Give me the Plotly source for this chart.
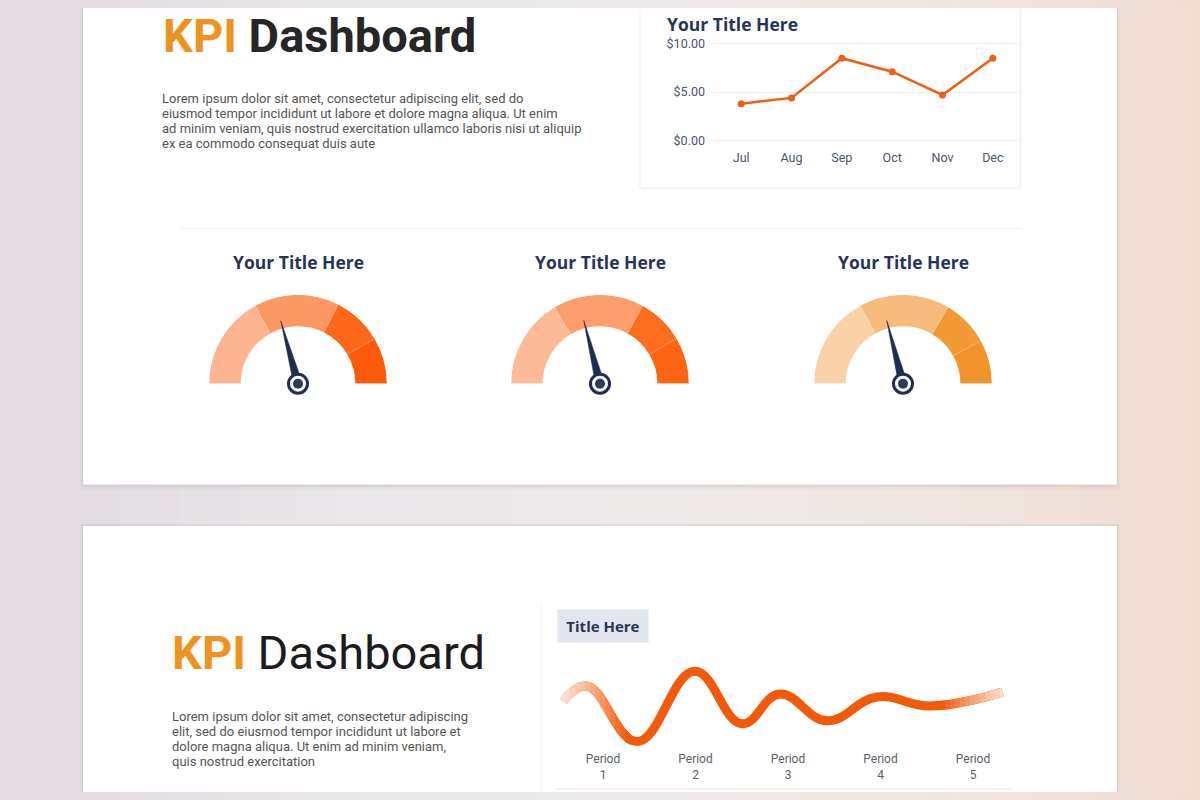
import plotly.graph_objects as go

# The page body keeps its default 8px margin, so the figure is 16px smaller than
# the window and every position below is given in window pixels.
WIN_W, WIN_H, PAGE_M = 1200, 800, 8
FW, FH = WIN_W - 2 * PAGE_M, WIN_H - 2 * PAGE_M


def fx(p):
    return (p - PAGE_M) / FW


def fy(p):
    return 1 - (p - PAGE_M) / FH


# ---------------- data ----------------
months = ["Jul", "Aug", "Sep", "Oct", "Nov", "Dec"]
month_values = [3.8, 4.4, 8.5, 7.1, 4.7, 8.5]
money_ticks = [0, 5, 10]
money_labels = ["$0.00", "$5.00", "$10.00"]

gauge_title = "Your Title Here"
gauge_values = [41.5, 42.0, 42.0]          # percent of the dial
gauge_bounds = [[0, 34, 65, 83, 100],
                [0, 33, 66, 83, 100],
                [0, 34, 67, 84, 100]]

period_labels = ["Period<br>1", "Period<br>2", "Period<br>3", "Period<br>4", "Period<br>5"]
period_pos = [1, 2, 3, 4, 5]
wave_x = [0.57, 0.83, 1.37, 1.99, 2.50, 2.91, 3.42, 3.96, 4.54, 5.32]
wave_y = [4.8, 6.3, 0.7, 7.8, 2.5, 5.5, 2.8, 5.2, 4.3, 5.7]

lorem_top = [
    "Lorem ipsum dolor sit amet, consectetur adipiscing elit, sed do",
    "eiusmod tempor incididunt ut labore et dolore magna aliqua. Ut enim",
    "ad minim veniam, quis nostrud exercitation ullamco laboris nisi ut aliquip",
    "ex ea commodo consequat duis aute",
]
lorem_bottom = [
    "Lorem ipsum dolor sit amet, consectetur adipiscing",
    "elit, sed do eiusmod tempor incididunt ut labore et",
    "dolore magna aliqua. Ut enim ad minim veniam,",
    "quis nostrud exercitation",
]

# ---------------- styles ----------------
ORANGE_T = "#f0921e"
NAVY = "#27345a"
NEEDLE = "#1f2d52"
gauge_colors = [
    ["#fcb590", "#fd9862", "#fd681a", "#fd5b0a"],
    ["#fdba96", "#fd9d6c", "#fe6c20", "#fe6412"],
    ["#fbd2a8", "#f7bc7c", "#f29b36", "#f1932a"],
]
gauge_cx = [298, 600, 903]
FONT = "Roboto"
TFONT = "Open Sans"

fig = go.Figure()
shapes = []

# background gradient
stops = [(0.0, (226, 219, 226)), (0.3, (234, 231, 234)), (0.55, (238, 234, 234)),
         (0.8, (240, 229, 224)), (1.0, (242, 221, 211))]


def mix(c0, c1, u):
    return tuple(round(a + (b - a) * u) for a, b in zip(c0, c1))


def grad(t):
    for (t0, c0), (t1, c1) in zip(stops[:-1], stops[1:]):
        if t0 <= t <= t1:
            return "rgb(%d,%d,%d)" % mix(c0, c1, (t - t0) / (t1 - t0))
    return "rgb(%d,%d,%d)" % stops[-1][1]


N = 40
for i in range(N):
    t0, t1 = i / N, min(1.0, (i + 1.05) / N)
    shapes.append(dict(type="rect", xref="paper", yref="paper", layer="below",
                       x0=fx(t0 * WIN_W), x1=fx(t1 * WIN_W), y0=fy(WIN_H), y1=fy(0),
                       fillcolor=grad((i + 0.5) / N), line_width=0))

# card shadows + cards
for off, a in [(6, 0.025), (4, 0.035), (2, 0.05)]:
    shapes.append(dict(type="rect", xref="paper", yref="paper", layer="below",
                       x0=fx(83 - off / 2), x1=fx(1117 + off / 2), y0=fy(485 + off), y1=fy(0),
                       fillcolor="rgba(90,70,70,%s)" % a, line_width=0))
    shapes.append(dict(type="rect", xref="paper", yref="paper", layer="below",
                       x0=fx(83 - off / 2), x1=fx(1117 + off / 2), y0=fy(WIN_H), y1=fy(527 - off / 2),
                       fillcolor="rgba(90,70,70,%s)" % a, line_width=0))
shapes.append(dict(type="rect", xref="paper", yref="paper", layer="below",
                   x0=fx(83), x1=fx(1117), y0=fy(485), y1=fy(0),
                   fillcolor="white", line_width=0))
shapes.append(dict(type="rect", xref="paper", yref="paper", layer="below",
                   x0=fx(83), x1=fx(1117), y0=fy(WIN_H), y1=fy(527),
                   fillcolor="white", line_width=0))
# inner card of the line chart
shapes.append(dict(type="rect", xref="paper", yref="paper", layer="below",
                   x0=fx(641), x1=fx(1022), y0=fy(187), y1=fy(0),
                   fillcolor="rgba(0,0,0,0.02)", line_width=0))
shapes.append(dict(type="rect", xref="paper", yref="paper", layer="below",
                   x0=fx(640), x1=fx(1020), y0=fy(185), y1=fy(-2),
                   fillcolor="white", line=dict(color="#ececec", width=1)))
# divider
shapes.append(dict(type="line", xref="paper", yref="paper", layer="below",
                   x0=fx(180), x1=fx(1022), y0=fy(226), y1=fy(226),
                   line=dict(color="#f0f0f0", width=1)))
# wave panel borders
shapes.append(dict(type="line", xref="paper", yref="paper", layer="below",
                   x0=fx(541), x1=fx(541), y0=fy(605), y1=fy(WIN_H),
                   line=dict(color="#f1f1f1", width=1)))
shapes.append(dict(type="line", xref="paper", yref="paper", layer="below",
                   x0=fx(555), x1=fx(1012), y0=fy(793), y1=fy(793),
                   line=dict(color="#eeeeee", width=1.5)))

layout = {}

# ---------------- line chart ----------------
fig.add_trace(go.Scatter(x=months, y=month_values, mode="lines+markers",
                         line=dict(color="#ef5e16", width=2.5),
                         marker=dict(color="#ef5e16", size=7),
                         hoverinfo="skip", xaxis="x", yaxis="y"))
layout["xaxis"] = dict(domain=[fx(711), fx(1019)], range=[-0.6, 5.52], anchor="y",
                       showgrid=False, zeroline=False, showline=False, ticks="",
                       ticklabelstandoff=5,
                       tickfont=dict(family=FONT, size=12.5, color="#4b5472"))
layout["yaxis"] = dict(domain=[fy(137 + 2.94), fy(39 - 2.94)], range=[-0.3, 10.3], anchor="x",
                       tickvals=money_ticks, ticktext=money_labels,
                       showgrid=True, gridcolor="#ececec", gridwidth=1,
                       zeroline=False, showline=False, ticks="",
                       ticklabelstandoff=5,
                       tickfont=dict(family=FONT, size=12.5, color="#4b5472"))

# ---------------- gauges ----------------
for g in range(3):
    pid = "polar" if g == 0 else "polar%d" % (g + 1)
    b = gauge_bounds[g]
    thetas = [(b[i] + b[i + 1]) / 2 * 1.8 for i in range(4)]
    widths = [(b[i + 1] - b[i]) * 1.8 for i in range(4)]
    fig.add_trace(go.Barpolar(r=[32] * 4, base=58, theta=thetas, width=widths,
                              marker=dict(color=gauge_colors[g],
                                          line=dict(color="rgba(255,255,255,0.2)", width=0.6)),
                              hoverinfo="skip", subplot=pid))
    tv = gauge_values[g] * 1.8
    fig.add_trace(go.Scatterpolar(r=[4.5, 66, 4.5], theta=[tv - 90, tv, tv + 90],
                                  mode="lines", fill="toself", fillcolor=NEEDLE,
                                  line=dict(color=NEEDLE, width=0.5), cliponaxis=False,
                                  hoverinfo="skip", subplot=pid))
    fig.add_trace(go.Scatterpolar(r=[0], theta=[0], mode="markers", cliponaxis=False,
                                  marker=dict(size=19, color="white",
                                              line=dict(color=NEEDLE, width=3)),
                                  hoverinfo="skip", subplot=pid))
    fig.add_trace(go.Scatterpolar(r=[0], theta=[0], mode="markers", cliponaxis=False,
                                  marker=dict(size=10, color="#2b3a63"),
                                  hoverinfo="skip", subplot=pid))
    cx = gauge_cx[g]
    layout[pid] = dict(domain=dict(x=[fx(cx - 90), fx(cx + 90)], y=[fy(383), fy(293)]),
                       sector=[0, 180], bgcolor="rgba(0,0,0,0)", hole=0,
                       radialaxis=dict(range=[0, 90], visible=False),
                       angularaxis=dict(visible=False, rotation=180, direction="clockwise"))

# ---------------- wave chart ----------------


def to_period(p):
    return (p - 603) / 92.5 + 1


WAVE_TOP, WAVE_BOT = 652, 754
wave_yrange = [-0.2, 10]
WAVE_OR = (242, 90, 10)
fig.add_trace(go.Scatter(x=wave_x, y=wave_y, mode="lines",
                         line=dict(color="rgb(%d,%d,%d)" % WAVE_OR, width=9,
                                   shape="spline", smoothing=1.2),
                         hoverinfo="skip", xaxis="x2", yaxis="y2"))
layout["xaxis2"] = dict(domain=[fx(555), fx(1010)], range=[to_period(555), to_period(1010)],
                        anchor="y2", tickvals=period_pos, ticktext=period_labels,
                        showgrid=False, zeroline=False, showline=False, ticks="",
                        tickfont=dict(family=FONT, size=12, color="#5c5f68"))
layout["yaxis2"] = dict(domain=[fy(WAVE_BOT), fy(WAVE_TOP)], range=wave_yrange, anchor="x2",
                        visible=False)

# soft fading ends of the wave: the same series re-drawn in narrow clipped strips
PALE = (253, 232, 220)
fade_strips = []
for s in range(15):                         # left end, 555 -> 630 px
    a = 555 + 5 * s
    u = min(1.0, s / 14.0)
    fade_strips.append((a, a + 6, mix(PALE, WAVE_OR, u ** 1.2)))
for s in range(14):                         # right end, 940 -> 1010 px
    a = 940 + 5 * s
    u = s / 13.0
    fade_strips.append((a, a + 6, mix(WAVE_OR, PALE, u ** 0.9)))

for k, (a, bpx, col) in enumerate(fade_strips):
    n = k + 3
    fig.add_trace(go.Scatter(x=wave_x, y=wave_y, mode="lines",
                             line=dict(color="rgb(%d,%d,%d)" % col, width=9,
                                       shape="spline", smoothing=1.2),
                             hoverinfo="skip", xaxis="x%d" % n, yaxis="y%d" % n))
    layout["xaxis%d" % n] = dict(domain=[fx(a), fx(bpx)], range=[to_period(a), to_period(bpx)],
                                 anchor="y%d" % n, visible=False)
    layout["yaxis%d" % n] = dict(domain=[fy(WAVE_BOT), fy(WAVE_TOP)], range=wave_yrange,
                                 anchor="x%d" % n, visible=False)

# ---------------- annotations ----------------
ann = []
ann.append(dict(x=fx(161), y=fy(31), xref="paper", yref="paper", xanchor="left", yanchor="middle",
                showarrow=False,
                text="<span style='color:%s'>KPI</span> Dashboard" % ORANGE_T,
                font=dict(family=FONT, size=47, color="#262626", weight="bold")))
for i, t in enumerate(lorem_top):
    ann.append(dict(x=fx(160), y=fy(94 + i * 15.2), xref="paper", yref="paper",
                    xanchor="left", yanchor="middle", showarrow=False, text=t,
                    font=dict(family=FONT, size=13, color="#555555")))
ann.append(dict(x=fx(665), y=fy(19), xref="paper", yref="paper", xanchor="left", yanchor="middle",
                showarrow=False, text="Your Title Here",
                font=dict(family=TFONT, size=17.5, color=NAVY, weight="bold")))
for cx in gauge_cx:
    ann.append(dict(x=fx(cx), y=fy(260), xref="paper", yref="paper", xanchor="center",
                    yanchor="middle", showarrow=False, text=gauge_title,
                    font=dict(family=TFONT, size=17.5, color=NAVY, weight="bold")))
ann.append(dict(x=fx(170), y=fy(655), xref="paper", yref="paper", xanchor="left", yanchor="middle",
                showarrow=False,
                text="<b><span style='color:%s'>KPI</span></b> Dashboard" % ORANGE_T,
                font=dict(family=FONT, size=47, color="#1c1c1c")))
for i, t in enumerate(lorem_bottom):
    ann.append(dict(x=fx(170), y=fy(720 + i * 15.2), xref="paper", yref="paper",
                    xanchor="left", yanchor="middle", showarrow=False, text=t,
                    font=dict(family=FONT, size=13, color="#555555")))
ann.append(dict(x=fx(603), y=fy(628), xref="paper", yref="paper", xanchor="center",
                yanchor="middle", showarrow=False, text="Title Here", width=88, height=30,
                bgcolor="#e2e6ee",
                font=dict(family=TFONT, size=15, color="#2a3552", weight="bold")))

fig.update_layout(width=FW, height=FH, margin=dict(l=0, r=0, t=0, b=0),
                  paper_bgcolor="#ebe7e9", plot_bgcolor="rgba(0,0,0,0)",
                  showlegend=False, shapes=shapes, annotations=ann, **layout)

# colour the 8px page margin like the surrounding background (no size change):
# a gradient on the body and white extensions of the two cards via box-shadow
page_bg = ("document.body.style.background="
           "'linear-gradient(90deg,#e2dbe2 0%,#eae7ea 30%,#eeeaea 55%,#f0e5e0 80%,#f2ddd3 100%)';"
           "var gd=document.querySelector('.plotly-graph-div');"
           "if(gd){gd.style.boxShadow='0 -83px 0 -75px #ffffff, 0 83px 0 -75px #ffffff';}")
fig.write_html("out.html", config={"displayModeBar": False}, post_script=page_bg)
